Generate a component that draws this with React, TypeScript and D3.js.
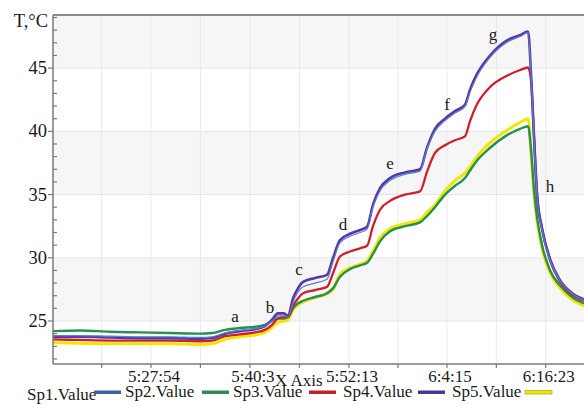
import React from "react";
import * as d3 from "d3";

// Recording start and the clock labels shown on the time axis
const START = "5:15:52";
const timeLabels = ["5:27:54", "5:40:3", "5:52:13", "6:4:15", "6:16:23"];
const yMajor = [25, 30, 35, 40, 45];
const yDomain = [21.6, 49.2];
const tMax = 3913;

// Elapsed seconds since START for each sample
const elapsed = [
  0, 199, 420, 641, 862, 1083, 1172, 1268, 1378, 1489, 1562, 1614, 1658, 1702, 1732, 1769, 1806,
  1843, 1931, 2019, 2064, 2115, 2189, 2263, 2314, 2358, 2410, 2484, 2594, 2705, 2756, 2815, 2889,
  2963, 3036, 3073, 3118, 3221, 3346, 3442, 3501, 3523, 3545, 3567, 3604, 3663, 3737, 3825, 3913,
];

// Temperatures, °C
const sp1 = [
  23.85, 23.85, 23.8, 23.75, 23.75, 23.7, 23.75, 24.05, 24.25, 24.4, 24.6, 25.0, 25.4, 25.4, 25.3,
  26.5, 27.3, 27.7, 28.0, 28.3, 29.7, 31.2, 31.7, 32.0, 32.25, 34.0, 35.3, 36.1, 36.6, 36.85, 38.6,
  40.0, 40.85, 41.45, 41.95, 43.1, 44.2, 45.85, 47.05, 47.5, 47.8, 44.4, 39.4, 34.9, 32.2, 29.8,
  28.15, 27.15, 26.65,
];
const sp2 = [
  24.2, 24.25, 24.15, 24.1, 24.05, 24.0, 24.05, 24.3, 24.45, 24.55, 24.7, 25.0, 25.2, 25.2, 25.3,
  26.0, 26.4, 26.6, 26.9, 27.2, 27.6, 28.5, 29.1, 29.4, 29.6, 30.3, 31.3, 32.1, 32.5, 32.8, 33.3,
  34.0, 35.0, 35.7, 36.3, 36.9, 37.6, 38.7, 39.7, 40.2, 40.4, 38.5, 35.3, 33.2, 31.0, 29.0, 27.8,
  26.9, 26.4,
];
const sp3 = [
  23.55, 23.5, 23.45, 23.45, 23.45, 23.4, 23.45, 23.8, 23.95, 24.1, 24.3, 24.7, 25.2, 25.3, 25.3,
  26.2, 26.8, 27.2, 27.45, 27.7, 28.8, 30.1, 30.5, 30.75, 30.95, 32.5, 33.8, 34.5, 35.0, 35.25,
  36.8, 38.3, 38.9, 39.3, 39.6, 40.8, 42.0, 43.5, 44.4, 44.85, 45.05, 44.0, 39.5, 35.0, 32.3, 29.8,
  28.1, 27.1, 26.6,
];
const sp4 = [
  23.75, 23.75, 23.7, 23.65, 23.65, 23.6, 23.65, 24.0, 24.2, 24.35, 24.6, 25.1, 25.6, 25.6, 25.4,
  26.8, 27.6, 28.1, 28.4, 28.65, 30.0, 31.4, 31.9, 32.2, 32.45, 34.2, 35.5, 36.3, 36.75, 37.0,
  38.7, 40.2, 41.0, 41.6, 42.1, 43.3, 44.4, 46.0, 47.2, 47.6, 47.9, 44.5, 39.5, 35.0, 32.3, 29.9,
  28.2, 27.2, 26.7,
];
const sp5 = [
  23.3, 23.25, 23.2, 23.2, 23.2, 23.15, 23.2, 23.55, 23.75, 23.9, 24.1, 24.5, 24.9, 25.0, 25.1,
  25.9, 26.3, 26.5, 26.85, 27.15, 27.5, 28.7, 29.2, 29.5, 29.75, 30.5, 31.6, 32.3, 32.7, 33.0,
  33.6, 34.2, 35.3, 36.1, 36.7, 37.2, 37.9, 39.1, 40.1, 40.7, 41.0, 38.3, 35.0, 32.9, 30.7, 28.8,
  27.6, 26.7, 26.2,
];

// Stage markers: letter, elapsed seconds, temperature
const stageLetters = ["a", "b", "c", "d", "e", "f", "g", "h"];
const stageTimes = [1341, 1599, 1813, 2137, 2484, 2904, 3243, 3663];
const stageTemps = [24.92, 25.63, 28.64, 32.2, 37.02, 41.69, 47.22, 35.2];

const seriesNames = ["Sp1.Value", "Sp2.Value", "Sp3.Value", "Sp4.Value", "Sp5.Value"];
const seriesValues = [sp1, sp2, sp3, sp4, sp5];

const W = 584;
const H = 405;
const plot = { left: 53, top: 15, right: 584, bottom: 364 };
const FONT = '"Liberation Serif", "DejaVu Serif", serif';

const colors = ["#5b7fc7", "#23914f", "#d01f2a", "#5438a6", "#f2e600"];
const legendColors = ["#41609e", "#2f8a55", "#c0222b", "#4b3596", "#f0e400"];
const widths = [1.2, 2.4, 2.3, 2.6, 3.0];
// drawn back to front
const drawOrder = [4, 1, 2, 3, 0];
const legendTextX = [27, 125, 233, 343, 452];
const legendSwatchX = [94, 202, 309, 418, 525];
const legendBaseline = [400, 397, 397, 397, 397];

const seconds = (s: string) => s.split(":").map(Number).reduce((a, b) => a * 60 + b, 0);

const textStyle: React.CSSProperties = { fontFamily: FONT, fontSize: 17, fill: "#1a1a1a" };
const yTextStyle: React.CSSProperties = { ...textStyle, fontSize: 18.5 };

export default function App() {
  const x = d3.scaleLinear().domain([0, tMax]).range([plot.left, plot.right]);
  const y = d3.scaleLinear().domain(yDomain).range([plot.bottom, plot.top]);

  const t0 = seconds(START);
  const labelTimes = timeLabels.map((s) => seconds(s) - t0);
  const step = (labelTimes[labelTimes.length - 1] - labelTimes[0]) / (labelTimes.length - 1);
  const minorTimes: number[] = [labelTimes[0] - step / 2];
  for (let i = 0; i < labelTimes.length - 1; i++) minorTimes.push((labelTimes[i] + labelTimes[i + 1]) / 2);
  minorTimes.push(labelTimes[labelTimes.length - 1] + step / 2);
  const allXTicks = [...labelTimes, ...minorTimes].filter((t) => t > 0 && t < tMax);

  const yMinor = d3.range(Math.ceil(yDomain[0]), Math.floor(yDomain[1]) + 1).filter((v) => !yMajor.includes(v));
  const bounds = [yDomain[1], ...[...yMajor].reverse(), yDomain[0]];
  const bands = bounds.slice(0, -1).map((hi, i) => [bounds[i + 1], hi]).filter((_, i) => i % 2 === 0);

  const line = (vals: number[]) =>
    d3
      .line<number>()
      .x((_, i) => x(elapsed[i]))
      .y((v) => y(v))
      .curve(d3.curveMonotoneX)(vals) || "";

  return (
    <svg
      width={W}
      height={H}
      style={{ position: "absolute", left: 0, top: 0, display: "block", background: "#fff", fontFamily: FONT }}
    >
      <defs>
        <clipPath id="plotClip">
          <rect x={plot.left} y={plot.top} width={plot.right - plot.left} height={plot.bottom - plot.top} />
        </clipPath>
      </defs>

      {bands.map(([lo, hi], i) => (
        <rect key={i} x={plot.left} y={y(hi)} width={plot.right - plot.left} height={y(lo) - y(hi)} fill="#f6f6f6" />
      ))}
      {yMajor.map((v) => (
        <line key={v} x1={plot.left} x2={plot.right} y1={y(v)} y2={y(v)} stroke="#e6e6e6" strokeWidth={1} />
      ))}
      {allXTicks.map((t) => (
        <line key={t} x1={x(t)} x2={x(t)} y1={plot.top} y2={plot.bottom} stroke="#e9e9e9" strokeWidth={1} />
      ))}

      <g clipPath="url(#plotClip)">
        {drawOrder.map((k) => (
          <path
            key={k}
            d={line(seriesValues[k])}
            fill="none"
            stroke={colors[k]}
            strokeWidth={widths[k]}
            strokeLinejoin="round"
          />
        ))}
      </g>

      {/* frame */}
      <line x1={plot.left} x2={plot.right} y1={plot.top} y2={plot.top} stroke="#8c8c8c" strokeWidth={2} />
      <line x1={plot.left} x2={plot.left} y1={plot.top} y2={plot.bottom} stroke="#7a7a7a" strokeWidth={1.5} />
      <line x1={plot.left} x2={plot.right} y1={plot.bottom} y2={plot.bottom} stroke="#7a7a7a" strokeWidth={1.5} />

      {/* y axis */}
      {yMajor.map((v) => (
        <g key={v}>
          <line x1={plot.left - 5} x2={plot.left} y1={y(v)} y2={y(v)} stroke="#7a7a7a" strokeWidth={1.2} />
          <text x={plot.left - 6} y={y(v) + 6} textAnchor="end" style={yTextStyle}>
            {v}
          </text>
        </g>
      ))}
      {yMinor.map((v) => (
        <line key={v} x1={plot.left} x2={plot.left + 4} y1={y(v)} y2={y(v)} stroke="#7a7a7a" strokeWidth={1.2} />
      ))}
      <text x={48} y={27} textAnchor="end" style={yTextStyle}>
        T,°C
      </text>

      {/* x axis */}
      {allXTicks.map((t) => (
        <line key={t} x1={x(t)} x2={x(t)} y1={plot.bottom} y2={plot.bottom + 4} stroke="#7a7a7a" strokeWidth={1.2} />
      ))}
      {timeLabels.map((s, i) => (
        <text key={s} x={x(labelTimes[i]) + 3} y={382} textAnchor="middle" style={textStyle}>
          {s}
        </text>
      ))}
      <text x={275} y={386} style={textStyle}>
        X Axis
      </text>

      {/* stage markers */}
      {stageLetters.map((c, i) => (
        <text key={c} x={x(stageTimes[i])} y={y(stageTemps[i])} textAnchor="middle" style={textStyle}>
          {c}
        </text>
      ))}

      {/* legend */}
      {seriesNames.map((name, i) => (
        <g key={name}>
          <text x={legendTextX[i]} y={legendBaseline[i]} style={textStyle}>
            {name}
          </text>
          <rect
            x={legendSwatchX[i]}
            y={390.5}
            width={27}
            height={3.5}
            fill={legendColors[i]}
            stroke={i === 4 ? "#b8ad2a" : "none"}
            strokeWidth={0.8}
          />
        </g>
      ))}
    </svg>
  );
}
